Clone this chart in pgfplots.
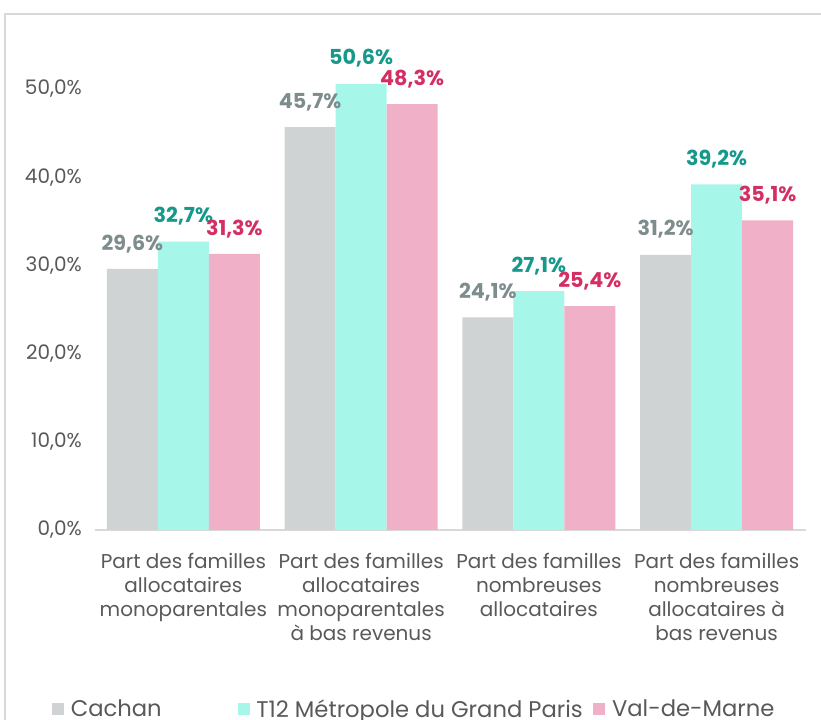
\documentclass[border=0pt]{standalone}
\usepackage{pgfplots}
\pgfplotsset{compat=1.18}
\usepackage{fontspec}
\setmainfont{Poppins}
\definecolor{txt}{HTML}{595959}
\definecolor{frame}{HTML}{D9D9D9}
\definecolor{cA}{HTML}{D0D3D4}
\definecolor{cB}{HTML}{A6F7EA}
\definecolor{cC}{HTML}{F0B1C8}
\definecolor{lA}{HTML}{7F8C8D}
\definecolor{lB}{HTML}{16998A}
\definecolor{lC}{HTML}{D42F63}
\begin{document}
\begin{tikzpicture}
\useasboundingbox (0,0) rectangle (615.75pt,540pt);
\draw[frame, line width=1.5pt] (3.75pt,-20pt) rectangle (640pt,529.5pt);
\begin{axis}[
  at={(70.875pt,142.5pt)}, anchor=south west,
  scale only axis, width=533.25pt, height=363.75pt,
  ymin=0, ymax=55, xmin=-0.5, xmax=3.5,
  ybar=0pt, bar width=38.25pt,
  axis x line*=bottom, axis y line*=left,
  y axis line style={draw=none},
  x axis line style={draw=frame, line width=0.8pt},
  major tick length=0pt,
  ytick={0,10,20,30,40,50},
  yticklabels={{0,0\%},{10,0\%},{20,0\%},{30,0\%},{40,0\%},{50,0\%}},
  yticklabel style={font=\fontsize{15}{18}\selectfont, text=txt, xshift=-6pt},
  xtick={0,1,2,3},
  xticklabels={{Part des familles\\allocataires\\monoparentales},{Part des familles\\allocataires\\monoparentales\\à bas revenus},{Part des familles\\nombreuses\\allocataires},{Part des familles\\nombreuses\\allocataires à\\bas revenus}},
  xticklabel style={font=\fontsize{15}{18}\selectfont, text=txt, align=center, yshift=-14pt},
  nodes near coords={\pgfmathprintnumber[fixed,fixed zerofill,precision=1,use comma]{\pgfplotspointmeta}\%},
  /pgf/number format/assume math mode=true,
  nodes near coords style={font=\bfseries\fontsize{15.5}{18}\selectfont, inner sep=1pt, yshift=11pt},
  legend style={at={(-0.06,-0.37)}, anchor=west, draw=none, fill=none, inner sep=0pt,
    legend columns=3, font=\fontsize{17}{20}\selectfont, text=txt,
    /tikz/column 1/.style={column sep=3pt},
    /tikz/column 3/.style={column sep=3pt},
    /tikz/column 5/.style={column sep=3pt},
    /tikz/column 2/.style={column sep=55pt},
    /tikz/column 4/.style={column sep=6pt}},
  legend image code/.code={\fill[#1] (0pt,-4.5pt) rectangle (9pt,4.5pt);},
]
\addplot[fill=cA, draw=none, nodes near coords style={text=lA}] coordinates {(0,29.6) (1,45.7) (2,24.1) (3,31.2)};
\addplot[fill=cB, draw=none, nodes near coords style={text=lB}] coordinates {(0,32.7) (1,50.6) (2,27.1) (3,39.2)};
\addplot[fill=cC, draw=none, nodes near coords style={text=lC}] coordinates {(0,31.3) (1,48.3) (2,25.4) (3,35.1)};
\legend{Cachan,T12  Métropole du Grand Paris,Val-de-Marne}
\end{axis}
\end{tikzpicture}
\end{document}
